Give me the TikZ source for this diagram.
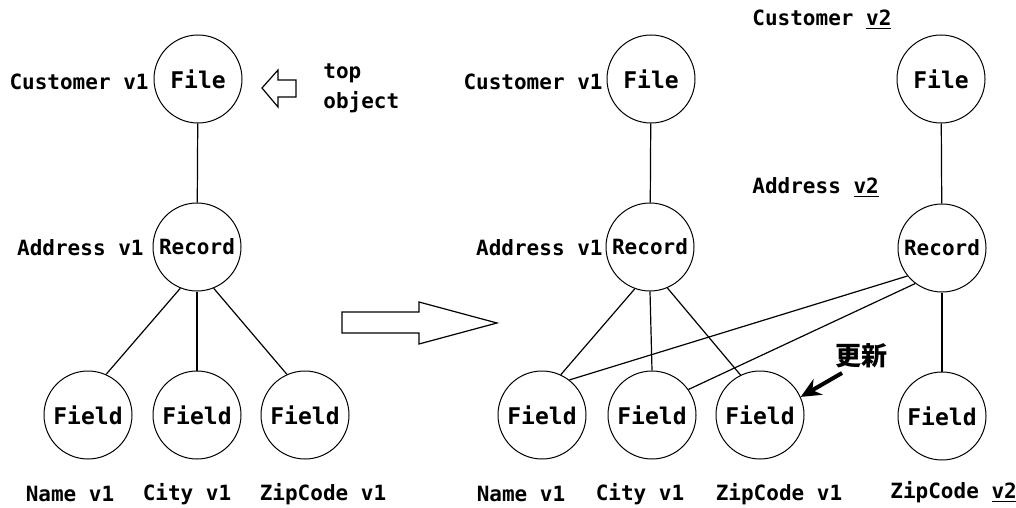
\documentclass[tikz,border=0pt]{standalone}
\usepackage{fontspec}
\setmainfont{DejaVu Sans Mono}
\newfontfamily\jpfont{Noto Sans CJK JP}
\usetikzlibrary{arrows.meta}

\tikzset{
  obj/.style={draw, circle, minimum size=44pt, inner sep=0pt, line width=0.5pt,
    font=\bfseries\fontsize{11.5}{12}\selectfont},
  lbl/.style={inner sep=0pt, font=\bfseries\fontsize{10.5}{15}\selectfont},
  link/.style={line width=0.6pt},
  hollow/.style={draw, line width=0.6pt, line join=miter}
}

\begin{document}
\begin{tikzpicture}[x=0.5pt, y=-0.5pt]
\useasboundingbox (0,0) rectangle (1016,508);
% before the update
\node[obj] (fileA) at (198,79) {File};
\node[obj, font=\bfseries\fontsize{10.5}{12}\selectfont] (recA) at (197,247) {Record};
\node[obj] (fA1) at (88,415) {Field};
\node[obj] (fA2) at (197,415) {Field};
\node[obj] (fA3) at (305,415) {Field};
\draw [link] (fileA) -- (recA);
\draw [link] (recA.248) -- (fA1.66);
\draw [link] (recA.south) -- (fA2.north);
\draw [link] (recA.292) -- (fA3.114);
\node[lbl, anchor=east] (custA) at (149,82) {Customer v1};
\node[lbl, anchor=east] (addrA) at (144,248) {Address v1};
\node[lbl] (nameA) at (70,494) {Name v1};
\node[lbl] (cityA) at (187,494) {City v1};
\node[lbl] (zipA) at (323,494) {ZipCode v1};
\draw [hollow] (262,88) -- (278,70) -- (278,80) -- (296,80) -- (296,97) -- (278,97) -- (278,107) -- cycle;
\node[lbl, anchor=west, align=left] (topobj) at (323,88) {top\\object};
% big arrow
\draw [hollow] (342,312) -- (419,312) -- (419,302) -- (497,323) -- (419,344) -- (419,333) -- (342,333) -- cycle;
% after the update, v1
\node[obj] (fileB) at (651,79) {File};
\node[obj, font=\bfseries\fontsize{10.5}{12}\selectfont] (recB) at (650,247) {Record};
\node[obj] (fB1) at (542,415) {Field};
\node[obj] (fB2) at (652,415) {Field};
\node[obj] (fB3) at (760,415) {Field};
\draw [link] (fileB) -- (recB);
\draw [link] (recB.250) -- (fB1.65);
\draw [link] (recB.south) -- (fB2.north);
\draw [link] (recB.293) -- (fB3.116);
\node[lbl, anchor=east] (custB) at (603,82) {Customer v1};
\node[lbl, anchor=east] (addrB) at (603,248) {Address v1};
\node[lbl] (nameB) at (521,494) {Name v1};
\node[lbl] (cityB) at (640,494) {City v1};
\node[lbl] (zipB) at (779,494) {ZipCode v1};
% v2
\node[obj] (fileC) at (941,79) {File};
\node[obj, font=\bfseries\fontsize{10.5}{12}\selectfont] (recC) at (942,248) {Record};
\node[obj] (fC) at (942,416) {Field};
\draw [link] (fileC) -- (recC);
\draw [link] (recC) -- (fC);
\draw [link] (recC.219) -- (fB1.52);
\draw [link] (recC.233) -- (fB2.35);
\node[lbl, anchor=west] (custC) at (752,20) {Customer \underline{v2}};
\node[lbl, anchor=west] (addrC) at (752,188) {Address \underline{v2}};
\node[lbl, anchor=west] (zipC) at (890,492) {ZipCode \underline{v2}};
\node[inner sep=0pt, font=\jpfont\bfseries\fontsize{13}{13}\selectfont] (upd) at (861,356) {更新};
\coordinate (updtail) at (842,373);
\draw [line width=2pt, -{Stealth[length=10pt, width=9pt]}] (updtail) -- (fB3.24);
\end{tikzpicture}
\end{document}
